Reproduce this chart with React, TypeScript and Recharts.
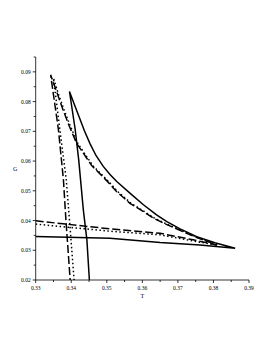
import React from 'react'
import { LineChart, Line, XAxis, YAxis } from 'recharts'

// solid curve: lower branch -> right cusp -> upper branch -> top cusp -> steep branch
const solidT = [0.33, 0.3509, 0.365, 0.3762, 0.3861, 0.3804, 0.3753, 0.3706, 0.3669, 0.364, 0.3603, 0.3565, 0.3528, 0.3509, 0.349, 0.347, 0.3453, 0.3437, 0.3422, 0.3408, 0.3395, 0.3411, 0.3421, 0.3434, 0.3444, 0.3451]
const solidG = [0.0346, 0.034, 0.0326, 0.0318, 0.0307, 0.0325, 0.0346, 0.0372, 0.0396, 0.0419, 0.0453, 0.0492, 0.0531, 0.0555, 0.0582, 0.0618, 0.0658, 0.0702, 0.0749, 0.0793, 0.0834, 0.0707, 0.0604, 0.0436, 0.0335, 0.02]

const dashT = [0.33, 0.3509, 0.365, 0.3743, 0.381, 0.3748, 0.3706, 0.3664, 0.3631, 0.3603, 0.3565, 0.3528, 0.3503, 0.3481, 0.3458, 0.3415, 0.3394, 0.3377, 0.336, 0.3342, 0.3364, 0.3378, 0.3385, 0.3397]
const dashG = [0.0399, 0.0372, 0.0357, 0.0335, 0.0318, 0.0345, 0.0367, 0.0389, 0.0408, 0.043, 0.0458, 0.0497, 0.053, 0.0557, 0.0584, 0.066, 0.0719, 0.0772, 0.083, 0.089, 0.0705, 0.0537, 0.0402, 0.02]

const dotT = [0.33, 0.3509, 0.365, 0.3743, 0.3812, 0.3751, 0.3709, 0.3667, 0.3634, 0.3606, 0.3568, 0.3531, 0.3506, 0.3484, 0.3461, 0.3418, 0.3397, 0.338, 0.3364, 0.335, 0.3368, 0.3386, 0.3395, 0.3408]
const dotG = [0.0388, 0.0364, 0.0352, 0.0331, 0.0317, 0.0345, 0.0367, 0.0389, 0.0408, 0.043, 0.0458, 0.0497, 0.053, 0.0557, 0.0584, 0.066, 0.0719, 0.0772, 0.0825, 0.0879, 0.0705, 0.0537, 0.0402, 0.02]

const xTicks = [0.33, 0.335, 0.34, 0.345, 0.35, 0.355, 0.36, 0.365, 0.37, 0.375, 0.38, 0.385, 0.39]
const yTicks = [0.02, 0.025, 0.03, 0.035, 0.04, 0.045, 0.05, 0.055, 0.06, 0.065, 0.07, 0.075, 0.08, 0.085, 0.09, 0.095]

const zip = (ts: number[], gs: number[]) => ts.map((t, i) => ({ T: t, G: gs[i] }))
const solid = zip(solidT, solidG)
const dashed = zip(dashT, dashG)
const dotted = zip(dotT, dotG)

const font = '"Liberation Serif", "DejaVu Serif", serif'
const isMajor = (v: number) => Math.round(v * 1000) % 10 === 0

function XTick(props: any) {
  const { x, y, payload } = props
  const major = isMajor(payload.value)
  return (
    <g>
      <line x1={x} x2={x} y1={y} y2={y + (major ? 3 : 2)} stroke="#000" strokeWidth={0.8} />
      {major && (
        <text x={x} y={y + 10} textAnchor="middle" fontSize={5.5} fontFamily={font} fill="#000">
          {payload.value.toFixed(2)}
        </text>
      )}
    </g>
  )
}

function YTick(props: any) {
  const { x, y, payload } = props
  const major = isMajor(payload.value)
  return (
    <g>
      <line x1={x} x2={x - (major ? 3 : 2)} y1={y} y2={y} stroke="#000" strokeWidth={0.8} />
      {major && (
        <text x={x - 5} y={y + 2} textAnchor="end" fontSize={5.5} fontFamily={font} fill="#000">
          {payload.value.toFixed(2)}
        </text>
      )}
    </g>
  )
}

export default function App() {
  return (
    <div style={{ width: 257, height: 300 }}>
      <LineChart width={257} height={300} margin={{ top: 49, right: 16, left: 4, bottom: 8 }}>
        <XAxis
          dataKey="T"
          type="number"
          domain={[0.33, 0.39]}
          ticks={xTicks}
          interval={0}
          allowDataOverflow
          height={20}
          tickSize={0}
          tickMargin={0}
          tickLine={false}
          tick={<XTick />}
          axisLine={{ stroke: '#000', strokeWidth: 0.8 }}
          label={{ value: 'T', position: 'insideBottom', offset: 2, fontSize: 6, fontFamily: font, fill: '#000' }}
        />
        <YAxis
          dataKey="G"
          type="number"
          domain={[0.02, 0.095]}
          ticks={yTicks}
          interval={0}
          allowDataOverflow
          width={23.7}
          tickSize={0}
          tickMargin={0}
          tickLine={false}
          tick={<YTick />}
          axisLine={{ stroke: '#000', strokeWidth: 0.8 }}
          label={{ value: 'G', position: 'insideLeft', offset: 1, fontSize: 6, fontFamily: font, fill: '#000' }}
        />
        <Line data={solid} dataKey="G" type="linear" stroke="#000" strokeWidth={1.5} dot={false} isAnimationActive={false} />
        <Line data={dashed} dataKey="G" type="linear" stroke="#000" strokeWidth={1.5} strokeDasharray="8 3" dot={false} isAnimationActive={false} />
        <Line data={dotted} dataKey="G" type="linear" stroke="#000" strokeWidth={1.5} strokeDasharray="1.5 2.5" dot={false} isAnimationActive={false} />
      </LineChart>
    </div>
  )
}
